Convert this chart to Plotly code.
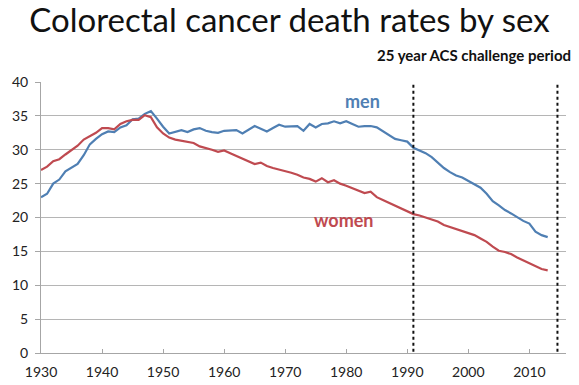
import plotly.graph_objects as go

years = list(range(1930, 2014))
men = [23.0, 23.5, 25.0, 25.6, 26.8, 27.4, 27.9, 29.2, 30.8, 31.6,
       32.3, 32.7, 32.6, 33.3, 33.6, 34.5, 34.6, 35.3, 35.7, 34.6,
       33.4, 32.4, 32.7, 32.9, 32.6, 33.0, 33.2, 32.8, 32.6, 32.5,
       32.8, 32.9, 32.9, 32.4, 32.9, 33.5, 33.1, 32.7, 33.2, 33.7,
       33.4, 33.4, 33.5, 32.8, 33.8, 33.3, 33.8, 33.9, 34.2, 33.9,
       34.2, 33.8, 33.4, 33.5, 33.5, 33.3, 32.7, 32.2, 31.6, 31.4,
       31.2, 30.3, 29.9, 29.5, 28.9, 28.1, 27.3, 26.7, 26.2, 25.9,
       25.4, 25.0, 24.4, 23.5, 22.4, 21.8, 21.1, 20.6, 20.0, 19.5,
       19.1, 17.9, 17.4, 17.1]
women = [27.0, 27.5, 28.3, 28.6, 29.3, 29.9, 30.6, 31.5, 32.0, 32.5,
         33.2, 33.2, 33.0, 33.8, 34.2, 34.4, 34.4, 35.1, 34.8, 33.3,
         32.4, 31.8, 31.5, 31.3, 31.2, 31.0, 30.5, 30.3, 30.0, 29.7,
         29.9, 29.5, 29.1, 28.7, 28.2, 27.9, 28.1, 27.6, 27.3, 27.1,
         26.8, 26.6, 26.3, 25.9, 25.7, 25.3, 25.8, 25.2, 25.5, 25.0,
         24.7, 24.3, 24.0, 23.6, 23.8, 23.0, 22.6, 22.2, 21.8, 21.4,
         20.9, 20.5, 20.3, 20.0, 19.7, 19.4, 18.9, 18.6, 18.4, 18.1,
         17.8, 17.4, 16.9, 16.4, 15.7, 15.1, 14.9, 14.6, 14.1, 13.7,
         13.3, 12.8, 12.4, 12.2]
x_ticks = [1930, 1940, 1950, 1960, 1970, 1980, 1990, 2000, 2010]
y_ticks = [0, 5, 10, 15, 20, 25, 30, 35, 40]
period_lines = [1991.0, 2014.6]
period_label = "25 year ACS challenge period"
title_text = "Colorectal cancer death rates by sex"

MEN_C = "#4f7fb3"
WOMEN_C = "#bf4a50"
FONT = "Lato"

fig = go.Figure()
fig.add_trace(go.Scatter(x=years, y=men, mode="lines", name="men",
                         line=dict(color=MEN_C, width=2.2)))
fig.add_trace(go.Scatter(x=years, y=women, mode="lines", name="women",
                         line=dict(color=WOMEN_C, width=2.2)))

for xv in period_lines:
    fig.add_shape(type="line", xref="x", yref="y", x0=xv, x1=xv, y0=-1.6, y1=41.4,
                  line=dict(color="#111111", width=2, dash="dot"))

fig.add_annotation(text=period_label, xref="paper", yref="paper",
                   x=(473.5 - 41) / 525, y=1 + 27 / 271,
                   xanchor="center", yanchor="middle", showarrow=False,
                   font=dict(family=FONT, size=15, color="#111111", weight="bold"))
fig.add_annotation(text="men", xref="x", yref="y", x=1982.6, y=37.2,
                   showarrow=False,
                   font=dict(family=FONT, size=18, color=MEN_C, weight="bold"))
fig.add_annotation(text="women", xref="x", yref="y", x=1979.6, y=19.6,
                   showarrow=False,
                   font=dict(family=FONT, size=18, color=WOMEN_C, weight="bold"))

fig.update_layout(
    width=579, height=385,
    margin=dict(l=41, r=13, t=82, b=32, autoexpand=False),
    paper_bgcolor="white", plot_bgcolor="white",
    showlegend=False,
    title=dict(text=title_text, x=0.5, xanchor="center", xref="container",
               y=1 - 20 / 385, yanchor="middle", yref="container",
               font=dict(family=FONT, size=33, color="#111111")),
    font=dict(family=FONT, size=13, color="#222222"),
)
fig.update_xaxes(range=[1930, 2016], tickvals=x_ticks, showgrid=False,
                 showline=True, linecolor="#a6a6a6", linewidth=1,
                 ticks="inside", ticklen=4, tickcolor="#a6a6a6",
                 zeroline=False, tickfont=dict(size=14), automargin=False,
                 ticklabelstandoff=6)
fig.update_yaxes(range=[0, 40], tickvals=y_ticks, showgrid=True,
                 gridcolor="#b5b5b5", gridwidth=1,
                 showline=True, linecolor="#a6a6a6", linewidth=1,
                 ticks="outside", ticklen=5, tickcolor="#a6a6a6",
                 zeroline=False, tickfont=dict(size=14), automargin=False,
                 ticklabelstandoff=4)

fig.write_html("out.html", config={"displayModeBar": False},
               post_script="document.body.style.margin='0px';document.body.style.overflow='hidden';")
